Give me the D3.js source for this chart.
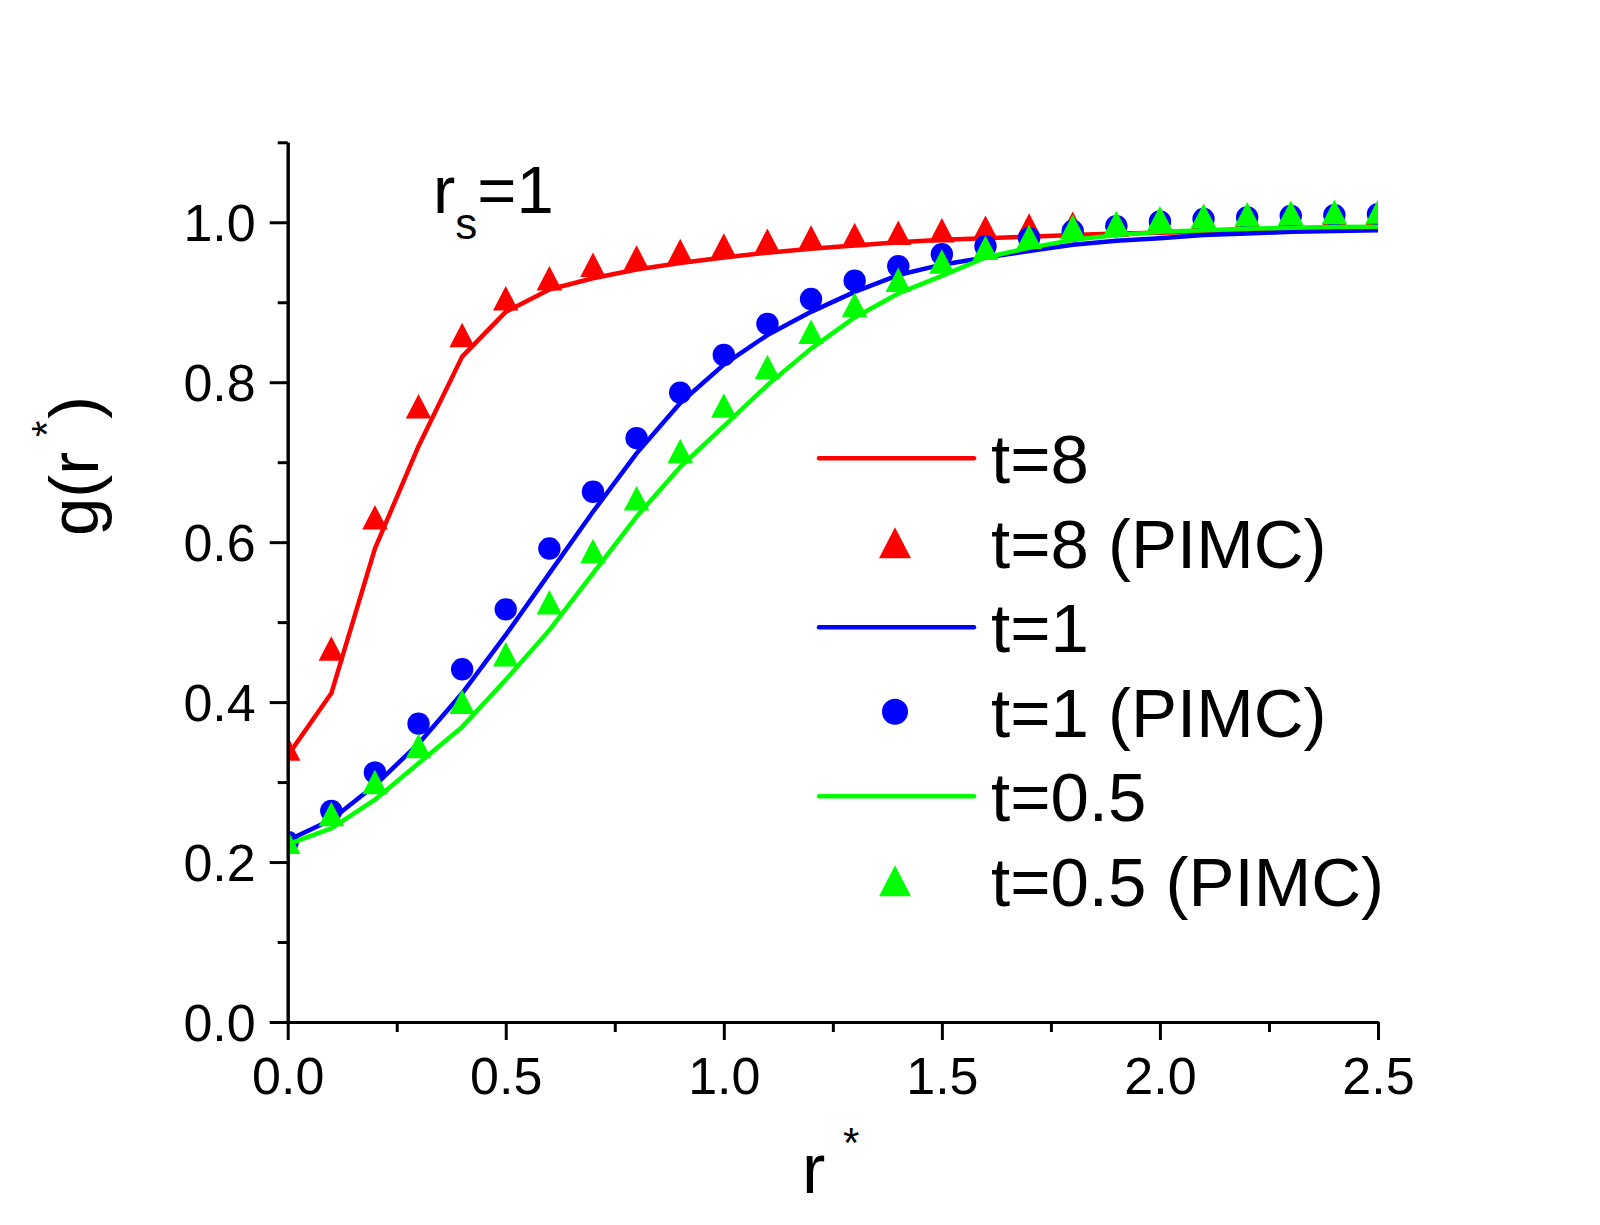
<!DOCTYPE html>
<html>
<head>
<meta charset="utf-8">
<script src="https://cdn.jsdelivr.net/npm/d3@7"></script>
<style>
  body { margin: 0; background: #fff; }
  svg { display: block; }
  text { font-family: "Liberation Sans", Arial, sans-serif; fill: #000; }
</style>
</head>
<body>
<div id="chart"></div>
<script>
// r* grid shared by every series
const rValues = [0, 0.1, 0.2, 0.3, 0.4, 0.5, 0.6, 0.7, 0.8, 0.9, 1.0, 1.1, 1.2,
                 1.3, 1.4, 1.5, 1.6, 1.7, 1.8, 1.9, 2.0, 2.1, 2.2, 2.3, 2.4, 2.5];

// t=8
const t8Line = [0.333, 0.411, 0.592, 0.720, 0.832, 0.888, 0.916, 0.930, 0.941, 0.949, 0.956, 0.962, 0.967,
                0.971, 0.975, 0.978, 0.980, 0.982, 0.984, 0.986, 0.987, 0.988, 0.989, 0.990, 0.991, 0.992];
const t8Pimc = [0.342, 0.467, 0.631, 0.770, 0.859, 0.905, 0.930, 0.947, 0.956, 0.964, 0.971, 0.977, 0.981,
                0.984, 0.987, 0.990, 0.993, 0.996, 0.998, 0.997, 1.002, 1.005, 1.007, 1.009, 1.010, 1.011];
// t=1
const t1Line = [0.227, 0.253, 0.296, 0.348, 0.411, 0.484, 0.561, 0.638, 0.711, 0.774, 0.822, 0.859, 0.888,
                0.913, 0.934, 0.947, 0.956, 0.964, 0.972, 0.977, 0.980, 0.984, 0.986, 0.988, 0.989, 0.990];
const t1Pimc = [0.225, 0.264, 0.312, 0.373, 0.441, 0.516, 0.592, 0.663, 0.730, 0.787, 0.834, 0.873, 0.904,
                0.927, 0.945, 0.960, 0.970, 0.980, 0.989, 0.995, 1.001, 1.004, 1.006, 1.008, 1.009, 1.010];
// t=0.5
const t05Line = [0.222, 0.242, 0.278, 0.3235, 0.369, 0.428, 0.490, 0.561, 0.632, 0.694, 0.745, 0.7965, 0.842,
                 0.881, 0.911, 0.933, 0.956, 0.968, 0.978, 0.984, 0.988, 0.990, 0.992, 0.993, 0.994, 0.9945];
const t05Pimc = [0.2255, 0.260, 0.300, 0.345, 0.4005, 0.460, 0.525, 0.589, 0.655, 0.714, 0.771, 0.819, 0.863,
                 0.897, 0.928, 0.951, 0.968, 0.982, 0.9945, 0.999, 1.005, 1.008, 1.010, 1.012, 1.013, 1.0135];

const xMajorTicks = [0, 0.5, 1.0, 1.5, 2.0, 2.5];
const xMinorTicks = [0.25, 0.75, 1.25, 1.75, 2.25];
const yMajorTicks = [0, 0.2, 0.4, 0.6, 0.8, 1.0];
const yMinorTicks = [0.1, 0.3, 0.5, 0.7, 0.9, 1.1];

const legendLabels = ['t=8', 't=8 (PIMC)', 't=1', 't=1 (PIMC)', 't=0.5', 't=0.5 (PIMC)'];

const RED = '#ff0000', BLUE = '#0000ff', GREEN = '#00ff00';

const series = [
    {kind: 'line', values: t8Line, color: RED},
    {kind: 'triangle', values: t8Pimc, color: RED},
    {kind: 'line', values: t1Line, color: BLUE},
    {kind: 'circle', values: t1Pimc, color: BLUE},
    {kind: 'line', values: t05Line, color: GREEN},
    {kind: 'triangle', values: t05Pimc, color: GREEN}
];

const width = 1600, height = 1225;
const x = d3.scaleLinear().domain([0, 2.5]).range([287.7, 1378]);
const y = d3.scaleLinear().domain([0, 1.1]).range([1022, 142.3]);

const svg = d3.select('#chart').append('svg')
    .attr('width', width)
    .attr('height', height);

svg.append('defs').append('clipPath')
    .attr('id', 'plot-clip')
    .append('rect')
    .attr('x', x(0))
    .attr('y', y(1.1))
    .attr('width', x(2.5) - x(0))
    .attr('height', y(0) - y(1.1));

function trianglePath(w, h) {
    return `M0,${-h / 2}L${w / 2},${h / 2}L${-w / 2},${h / 2}Z`;
}

// data
const plot = svg.append('g').attr('clip-path', 'url(#plot-clip)');
const line = d3.line()
    .x((d, i) => x(rValues[i]))
    .y(d => y(d));

series.forEach(s => {
    if (s.kind === 'line') {
        plot.append('path')
            .datum(s.values)
            .attr('d', line)
            .attr('fill', 'none')
            .attr('stroke', s.color)
            .attr('stroke-width', 4.5)
            .attr('stroke-linejoin', 'round');
    } else if (s.kind === 'triangle') {
        plot.append('g').selectAll('path')
            .data(s.values)
            .join('path')
            .attr('transform', (d, i) => `translate(${x(rValues[i])},${y(d)})`)
            .attr('d', trianglePath(25.5, 24.5))
            .attr('fill', s.color);
    } else {
        plot.append('g').selectAll('circle')
            .data(s.values)
            .join('circle')
            .attr('cx', (d, i) => x(rValues[i]))
            .attr('cy', d => y(d))
            .attr('r', 11.2)
            .attr('fill', s.color);
    }
});

// axes
function styleAxis(g) {
    g.selectAll('.domain').attr('stroke-width', 3);
    g.selectAll('.tick line').attr('stroke-width', 3);
    g.selectAll('.tick text').attr('font-size', 52).attr('font-family', '"Liberation Sans", Arial, sans-serif');
}

svg.append('g')
    .attr('transform', `translate(0,${y(0)})`)
    .call(d3.axisBottom(x).tickValues(xMinorTicks).tickSize(10).tickSizeOuter(0).tickFormat(''))
    .call(styleAxis);
svg.append('g')
    .attr('transform', `translate(0,${y(0)})`)
    .call(d3.axisBottom(x).tickValues(xMajorTicks).tickSize(18).tickSizeOuter(0)
        .tickPadding(17).tickFormat(d3.format('.1f')))
    .call(styleAxis);

svg.append('g')
    .attr('transform', `translate(${x(0)},0)`)
    .call(d3.axisLeft(y).tickValues(yMinorTicks).tickSize(10).tickSizeOuter(0).tickFormat(''))
    .call(styleAxis);
svg.append('g')
    .attr('transform', `translate(${x(0)},0)`)
    .call(d3.axisLeft(y).tickValues(yMajorTicks).tickSize(18).tickSizeOuter(0)
        .tickPadding(14).tickFormat(d3.format('.1f')))
    .call(styleAxis)
    .call(g => g.selectAll('.tick text').attr('dy', '0.358em'));

// axis titles
const xTitle = svg.append('text')
    .attr('x', 802)
    .attr('y', 1193)
    .attr('font-size', 70);
xTitle.append('tspan').text('r');
xTitle.append('tspan').attr('x', 843).attr('dy', -36).attr('font-size', 42).text('*');

const yTitle = svg.append('text')
    .attr('transform', 'translate(98,469) rotate(-90)')
    .attr('font-size', 69);
yTitle.append('tspan').attr('x', -67).text('g(r');
yTitle.append('tspan').attr('x', 32).attr('dy', -37).attr('font-size', 42).text('*');
yTitle.append('tspan').attr('x', 50).attr('dy', 37).text(')');

// r_s = 1 annotation
const rs = svg.append('text')
    .attr('x', 433)
    .attr('y', 212.7)
    .attr('font-size', 67);
rs.append('tspan').text('r');
rs.append('tspan').attr('dy', 26.6).attr('font-size', 44).text('s');
rs.append('tspan').attr('dy', -26.6).text('=1');

// legend
const legend = svg.append('g');
const rowY = i => 458.3 + i * 84.5;
series.forEach((s, i) => {
    const cy = rowY(i);
    if (s.kind === 'line') {
        legend.append('line')
            .attr('x1', 819).attr('x2', 974)
            .attr('y1', cy).attr('y2', cy)
            .attr('stroke', s.color)
            .attr('stroke-width', 4.5)
            .attr('stroke-linecap', 'round');
    } else if (s.kind === 'triangle') {
        legend.append('path')
            .attr('transform', `translate(895,${cy})`)
            .attr('d', trianglePath(32, 31))
            .attr('fill', s.color);
    } else {
        legend.append('circle')
            .attr('cx', 895).attr('cy', cy)
            .attr('r', 13)
            .attr('fill', s.color);
    }
    legend.append('text')
        .attr('x', 991)
        .attr('y', cy)
        .attr('dy', '0.358em')
        .attr('font-size', 69)
        .text(legendLabels[i]);
});
</script>
</body>
</html>
